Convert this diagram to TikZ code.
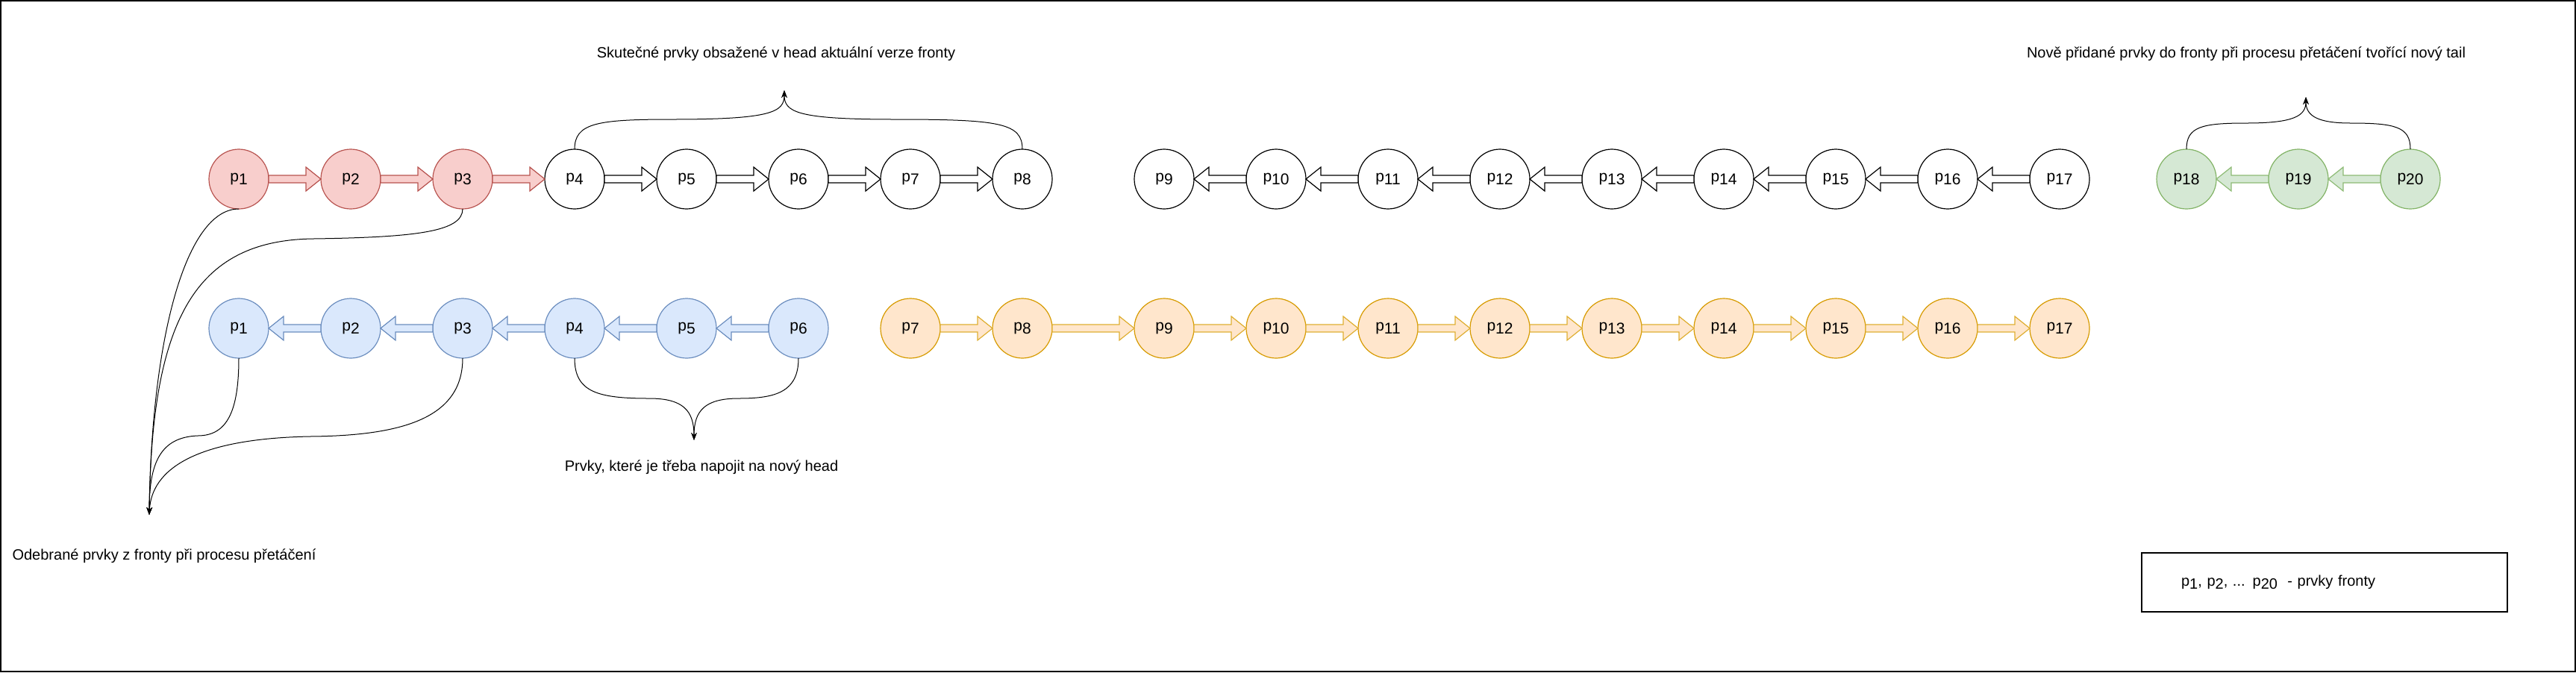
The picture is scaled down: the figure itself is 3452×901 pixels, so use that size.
\documentclass[tikz,border=0pt]{standalone}
\usepackage{fontspec}
\setmainfont{Liberation Sans}
\usepackage{xcolor}
\usetikzlibrary{arrows.meta,positioning,calc}

\definecolor{redfill}{HTML}{F8CECC}
\definecolor{redline}{HTML}{B85450}
\definecolor{bluefill}{HTML}{DAE8FC}
\definecolor{blueline}{HTML}{6C8EBF}
\definecolor{orangefill}{HTML}{FFE6CC}
\definecolor{orangeline}{HTML}{D79B00}
\definecolor{greenfill}{HTML}{D5E8D4}
\definecolor{greenline}{HTML}{82B366}

% item label: p with lowered index
\newcommand{\pp}[1]{p\raisebox{-0.2em}{#1}}

\begin{document}
\begin{tikzpicture}[
    x=0.5pt, y=-0.5pt,
    node distance=35pt,
    item/.style={circle, draw, line width=0.6pt, minimum size=40pt, inner sep=0pt, outer sep=0pt, font=\fontsize{10.5}{12}\selectfont},
    plainitem/.style={item, fill=white},
    reditem/.style={item, draw=redline, fill=redfill},
    blueitem/.style={item, draw=blueline, fill=bluefill},
    orangeitem/.style={item, draw=orangeline, fill=orangefill},
    greenitem/.style={item, draw=greenline, fill=greenfill},
    flow/.style={line width=0.6pt, to path={
        ($(\tikztostart)+(0,-5)$) -- ($(\tikztotarget)+(#1,-5)$) -- ($(\tikztotarget)+(#1,-16)$)
        -- (\tikztotarget) -- ($(\tikztotarget)+(#1,16)$) -- ($(\tikztotarget)+(#1,5)$)
        -- ($(\tikztostart)+(0,5)$) -- cycle}},
    plainflow/.style={draw=black, fill=white},
    redflow/.style={draw=redline, fill=redfill},
    blueflow/.style={draw=blueline, fill=bluefill},
    orangeflow/.style={draw=orangeline!80, fill=orangefill},
    greenflow/.style={draw=greenline!90, fill=greenfill},
    note/.style={font=\fontsize{10}{12}\selectfont, inner sep=0pt},
    arrow/.style={-{Stealth[length=5pt, width=3.8pt]}, line width=0.5pt}
]
    \useasboundingbox (0,0) rectangle (3452,901);
    \draw[line width=1pt] (1,1) rectangle (3451,900);

    % top row
    \node[reditem] (t1) at (320,240) {\pp{1}};
    \node[reditem, right=of t1] (t2) {\pp{2}};
    \node[reditem, right=of t2] (t3) {\pp{3}};
    \node[plainitem, right=of t3] (t4) {\pp{4}};
    \node[plainitem, right=of t4] (t5) {\pp{5}};
    \node[plainitem, right=of t5] (t6) {\pp{6}};
    \node[plainitem, right=of t6] (t7) {\pp{7}};
    \node[plainitem, right=of t7] (t8) {\pp{8}};
    \node[plainitem, right=55pt of t8] (t9) {\pp{9}};
    \node[plainitem, right=of t9] (t10) {\pp{10}};
    \node[plainitem, right=of t10] (t11) {\pp{11}};
    \node[plainitem, right=of t11] (t12) {\pp{12}};
    \node[plainitem, right=of t12] (t13) {\pp{13}};
    \node[plainitem, right=of t13] (t14) {\pp{14}};
    \node[plainitem, right=of t14] (t15) {\pp{15}};
    \node[plainitem, right=of t15] (t16) {\pp{16}};
    \node[plainitem, right=of t16] (t17) {\pp{17}};
    \node[greenitem, right=45pt of t17] (t18) {\pp{18}};
    \node[greenitem, right=of t18] (t19) {\pp{19}};
    \node[greenitem, right=of t19] (t20) {\pp{20}};

    % bottom row
    \node[blueitem, below=60pt of t1] (b1) {\pp{1}};
    \node[blueitem, right=of b1] (b2) {\pp{2}};
    \node[blueitem, right=of b2] (b3) {\pp{3}};
    \node[blueitem, right=of b3] (b4) {\pp{4}};
    \node[blueitem, right=of b4] (b5) {\pp{5}};
    \node[blueitem, right=of b5] (b6) {\pp{6}};
    \node[orangeitem, right=of b6] (b7) {\pp{7}};
    \node[orangeitem, right=of b7] (b8) {\pp{8}};
    \node[orangeitem, right=55pt of b8] (b9) {\pp{9}};
    \node[orangeitem, right=of b9] (b10) {\pp{10}};
    \node[orangeitem, right=of b10] (b11) {\pp{11}};
    \node[orangeitem, right=of b11] (b12) {\pp{12}};
    \node[orangeitem, right=of b12] (b13) {\pp{13}};
    \node[orangeitem, right=of b13] (b14) {\pp{14}};
    \node[orangeitem, right=of b14] (b15) {\pp{15}};
    \node[orangeitem, right=of b15] (b16) {\pp{16}};
    \node[orangeitem, right=of b16] (b17) {\pp{17}};

    % links, top row
    \draw[redflow, flow=-20] (t1.east) to (t2.west);
    \draw[redflow, flow=-20] (t2.east) to (t3.west);
    \draw[redflow, flow=-20] (t3.east) to (t4.west);
    \draw[plainflow, flow=-20] (t4.east) to (t5.west);
    \draw[plainflow, flow=-20] (t5.east) to (t6.west);
    \draw[plainflow, flow=-20] (t6.east) to (t7.west);
    \draw[plainflow, flow=-20] (t7.east) to (t8.west);
    \draw[plainflow, flow=20] (t10.west) to (t9.east);
    \draw[plainflow, flow=20] (t11.west) to (t10.east);
    \draw[plainflow, flow=20] (t12.west) to (t11.east);
    \draw[plainflow, flow=20] (t13.west) to (t12.east);
    \draw[plainflow, flow=20] (t14.west) to (t13.east);
    \draw[plainflow, flow=20] (t15.west) to (t14.east);
    \draw[plainflow, flow=20] (t16.west) to (t15.east);
    \draw[plainflow, flow=20] (t17.west) to (t16.east);
    \draw[greenflow, flow=20] (t19.west) to (t18.east);
    \draw[greenflow, flow=20] (t20.west) to (t19.east);

    % links, bottom row
    \draw[blueflow, flow=20] (b2.west) to (b1.east);
    \draw[blueflow, flow=20] (b3.west) to (b2.east);
    \draw[blueflow, flow=20] (b4.west) to (b3.east);
    \draw[blueflow, flow=20] (b5.west) to (b4.east);
    \draw[blueflow, flow=20] (b6.west) to (b5.east);
    \draw[orangeflow, flow=-20] (b7.east) to (b8.west);
    \draw[orangeflow, flow=-20] (b8.east) to (b9.west);
    \draw[orangeflow, flow=-20] (b9.east) to (b10.west);
    \draw[orangeflow, flow=-20] (b10.east) to (b11.west);
    \draw[orangeflow, flow=-20] (b11.east) to (b12.west);
    \draw[orangeflow, flow=-20] (b12.east) to (b13.west);
    \draw[orangeflow, flow=-20] (b13.east) to (b14.west);
    \draw[orangeflow, flow=-20] (b14.east) to (b15.west);
    \draw[orangeflow, flow=-20] (b15.east) to (b16.west);
    \draw[orangeflow, flow=-20] (b16.east) to (b17.west);

    % notes
    \node[note] (headnote) at (1040,72) {Skutečné prvky obsažené v head aktuální verze fronty};
    \node[note] (tailnote) at (3010,72) {Nově přidané prvky do fronty při procesu přetáčení tvořící nový tail};
    \node[note] (joinnote) at (940,626) {Prvky, které je třeba napojit na nový head};
    \node[note] (dropnote) at (220,745) {Odebrané prvky z fronty při procesu přetáčení};
    \node[draw, line width=0.6pt, minimum width=245pt, minimum height=39.5pt, text width=192pt,
          inner xsep=0pt, align=left, font=\fontsize{10}{12}\selectfont] (legend) at (3115,780.5)
          {\pp{1}, \pp{2}, ... \pp{20}\ \ - prvky fronty};

    \coordinate (headtip) at (1051,121);
    \coordinate (tailtip) at (3090,130);
    \coordinate (jointip) at (930,590);
    \coordinate (droptip) at (200,690);

    % braces
    \draw[arrow] (t4.north) .. controls (770,165) and (800,160) .. (900,160) .. controls (1035,160) and (1051,150) .. (headtip);
    \draw[arrow] (t8.north) .. controls (1370,165) and (1340,160) .. (1200,160) .. controls (1067,160) and (1051,150) .. (headtip);
    \draw[arrow] (t18.north) .. controls (2930,170) and (2950,165) .. (3010,165) .. controls (3075,165) and (3090,155) .. (tailtip);
    \draw[arrow] (t20.north) .. controls (3230,170) and (3210,165) .. (3150,165) .. controls (3105,165) and (3090,155) .. (tailtip);
    \draw[arrow] (b4.south) .. controls (770,525) and (800,534) .. (870,534) .. controls (915,534) and (930,550) .. (jointip);
    \draw[arrow] (b6.south) .. controls (1070,525) and (1040,534) .. (990,534) .. controls (945,534) and (930,550) .. (jointip);

    % removed items
    \draw[arrow] (t1.south) .. controls (250,280) and (203,450) .. (droptip);
    \draw[arrow] (t3.south) .. controls (620,310) and (560,318) .. (420,320) .. controls (260,322) and (203,430) .. (droptip);
    \draw[arrow] (b1.south) .. controls (320,550) and (305,584) .. (265,584) .. controls (215,586) and (200,620) .. (droptip);
    \draw[arrow] (b3.south) .. controls (620,560) and (540,584) .. (415,585) .. controls (260,588) and (203,630) .. (droptip);
\end{tikzpicture}
\end{document}
